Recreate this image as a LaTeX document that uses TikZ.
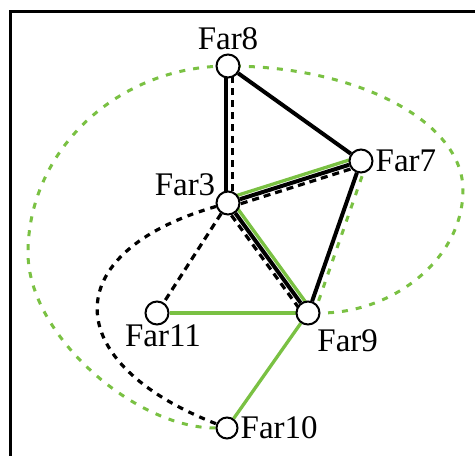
\documentclass[tikz,border=0pt]{standalone}
\usepackage{fontspec}
\setmainfont{Liberation Serif}
\usetikzlibrary{calc,backgrounds}

\tikzset{
    far/.style={circle, draw=black, fill=white, line width=2pt, minimum size=23pt, inner sep=0pt},
    every label/.style={inner sep=0pt, font=\fontsize{33}{36}\selectfont},
    blk/.style={black, line width=4pt},
    grn/.style={lineGreen, line width=3.3pt},
    blkdash/.style={black, line width=3.2pt, dash pattern=on 7pt off 5pt},
    grndash/.style={lineGreen, line width=3pt, dash pattern=on 6pt off 8pt},
}

\begin{document}
\begin{tikzpicture}[x=1pt, y=-1pt]
    \definecolor{lineGreen}{HTML}{7AC143}

    \useasboundingbox (0,0) rectangle (475,456);

    % Draw frame
    \draw[line width=3pt] (10.5,456) |- (475,11.5);

    % Proteins
    \node[far, label={[label distance=3pt]above:Far8}] (Far8) at (228,66) {};
    \node[far, label={[label distance=2pt]right:Far7}] (Far7) at (361,161) {};
    \node[far, label={[label distance=2pt]150:Far3}] (Far3) at (228,203) {};
    \node[far, label={[label distance=6pt]-60:Far9}] (Far9) at (308,313) {};
    \node[far, label={[label distance=-1pt, xshift=6pt]below:Far11}] (Far11) at (157,313) {};
    \node[far, minimum size=21pt, label={[label distance=2pt]right:Far10}] (Far10) at (227,428) {};

    \begin{scope}[on background layer]
        \fill[white] (0,0) rectangle (475,456);

        % Far8 -- Far3: solid and dashed
        \draw[blk] ($(Far3)!2pt!90:(Far8)$) -- ($(Far8)!2pt!-90:(Far3)$);
        \draw[blkdash] ($(Far3)!4.5pt!-90:(Far8)$) -- ($(Far8)!4.5pt!90:(Far3)$);

        % Far8 -- Far7
        \draw[blk] (Far8) -- (Far7);

        % Far3 -- Far7: green, solid, dashed
        \draw[grn] ($(Far3)!4.5pt!90:(Far7)$) -- ($(Far7)!4.5pt!-90:(Far3)$);
        \draw[blk] (Far3) -- (Far7);
        \draw[blkdash] ($(Far3)!4.5pt!-90:(Far7)$) -- ($(Far7)!4.5pt!90:(Far3)$);

        % Far3 -- Far9: green, solid, dashed
        \draw[grn] ($(Far3)!4.5pt!90:(Far9)$) -- ($(Far9)!4.5pt!-90:(Far3)$);
        \draw[blk] (Far3) -- (Far9);
        \draw[blkdash] ($(Far3)!4.5pt!-90:(Far9)$) -- ($(Far9)!4.5pt!90:(Far3)$);

        % Far7 -- Far9: solid and green dashed
        \draw[blk] (Far7) -- (Far9);
        \draw[grndash] ($(Far7)!6pt!90:(Far9)$) -- ($(Far9)!6pt!-90:(Far7)$);

        % Green spokes of Far9
        \draw[grn] (Far9) -- (Far11);
        \draw[grn] (Far9) -- (Far10);

        % Dashed links of Far3
        \draw[blkdash] (Far3) -- (Far11);
        \draw[blkdash, dash pattern=on 6pt off 6pt] (Far3) .. controls (55,253) and (60,363) .. (Far10);

        % Green dashed loop
        \draw[grndash] (Far10) .. controls (135,428) and (28,335) .. (28,253)
            .. controls (28,150) and (118,66) .. (Far8.center)
            .. controls (358,66) and (463,122) .. (463,190)
            .. controls (463,258) and (394,313) .. (Far9);
    \end{scope}

\end{tikzpicture}
\end{document}
